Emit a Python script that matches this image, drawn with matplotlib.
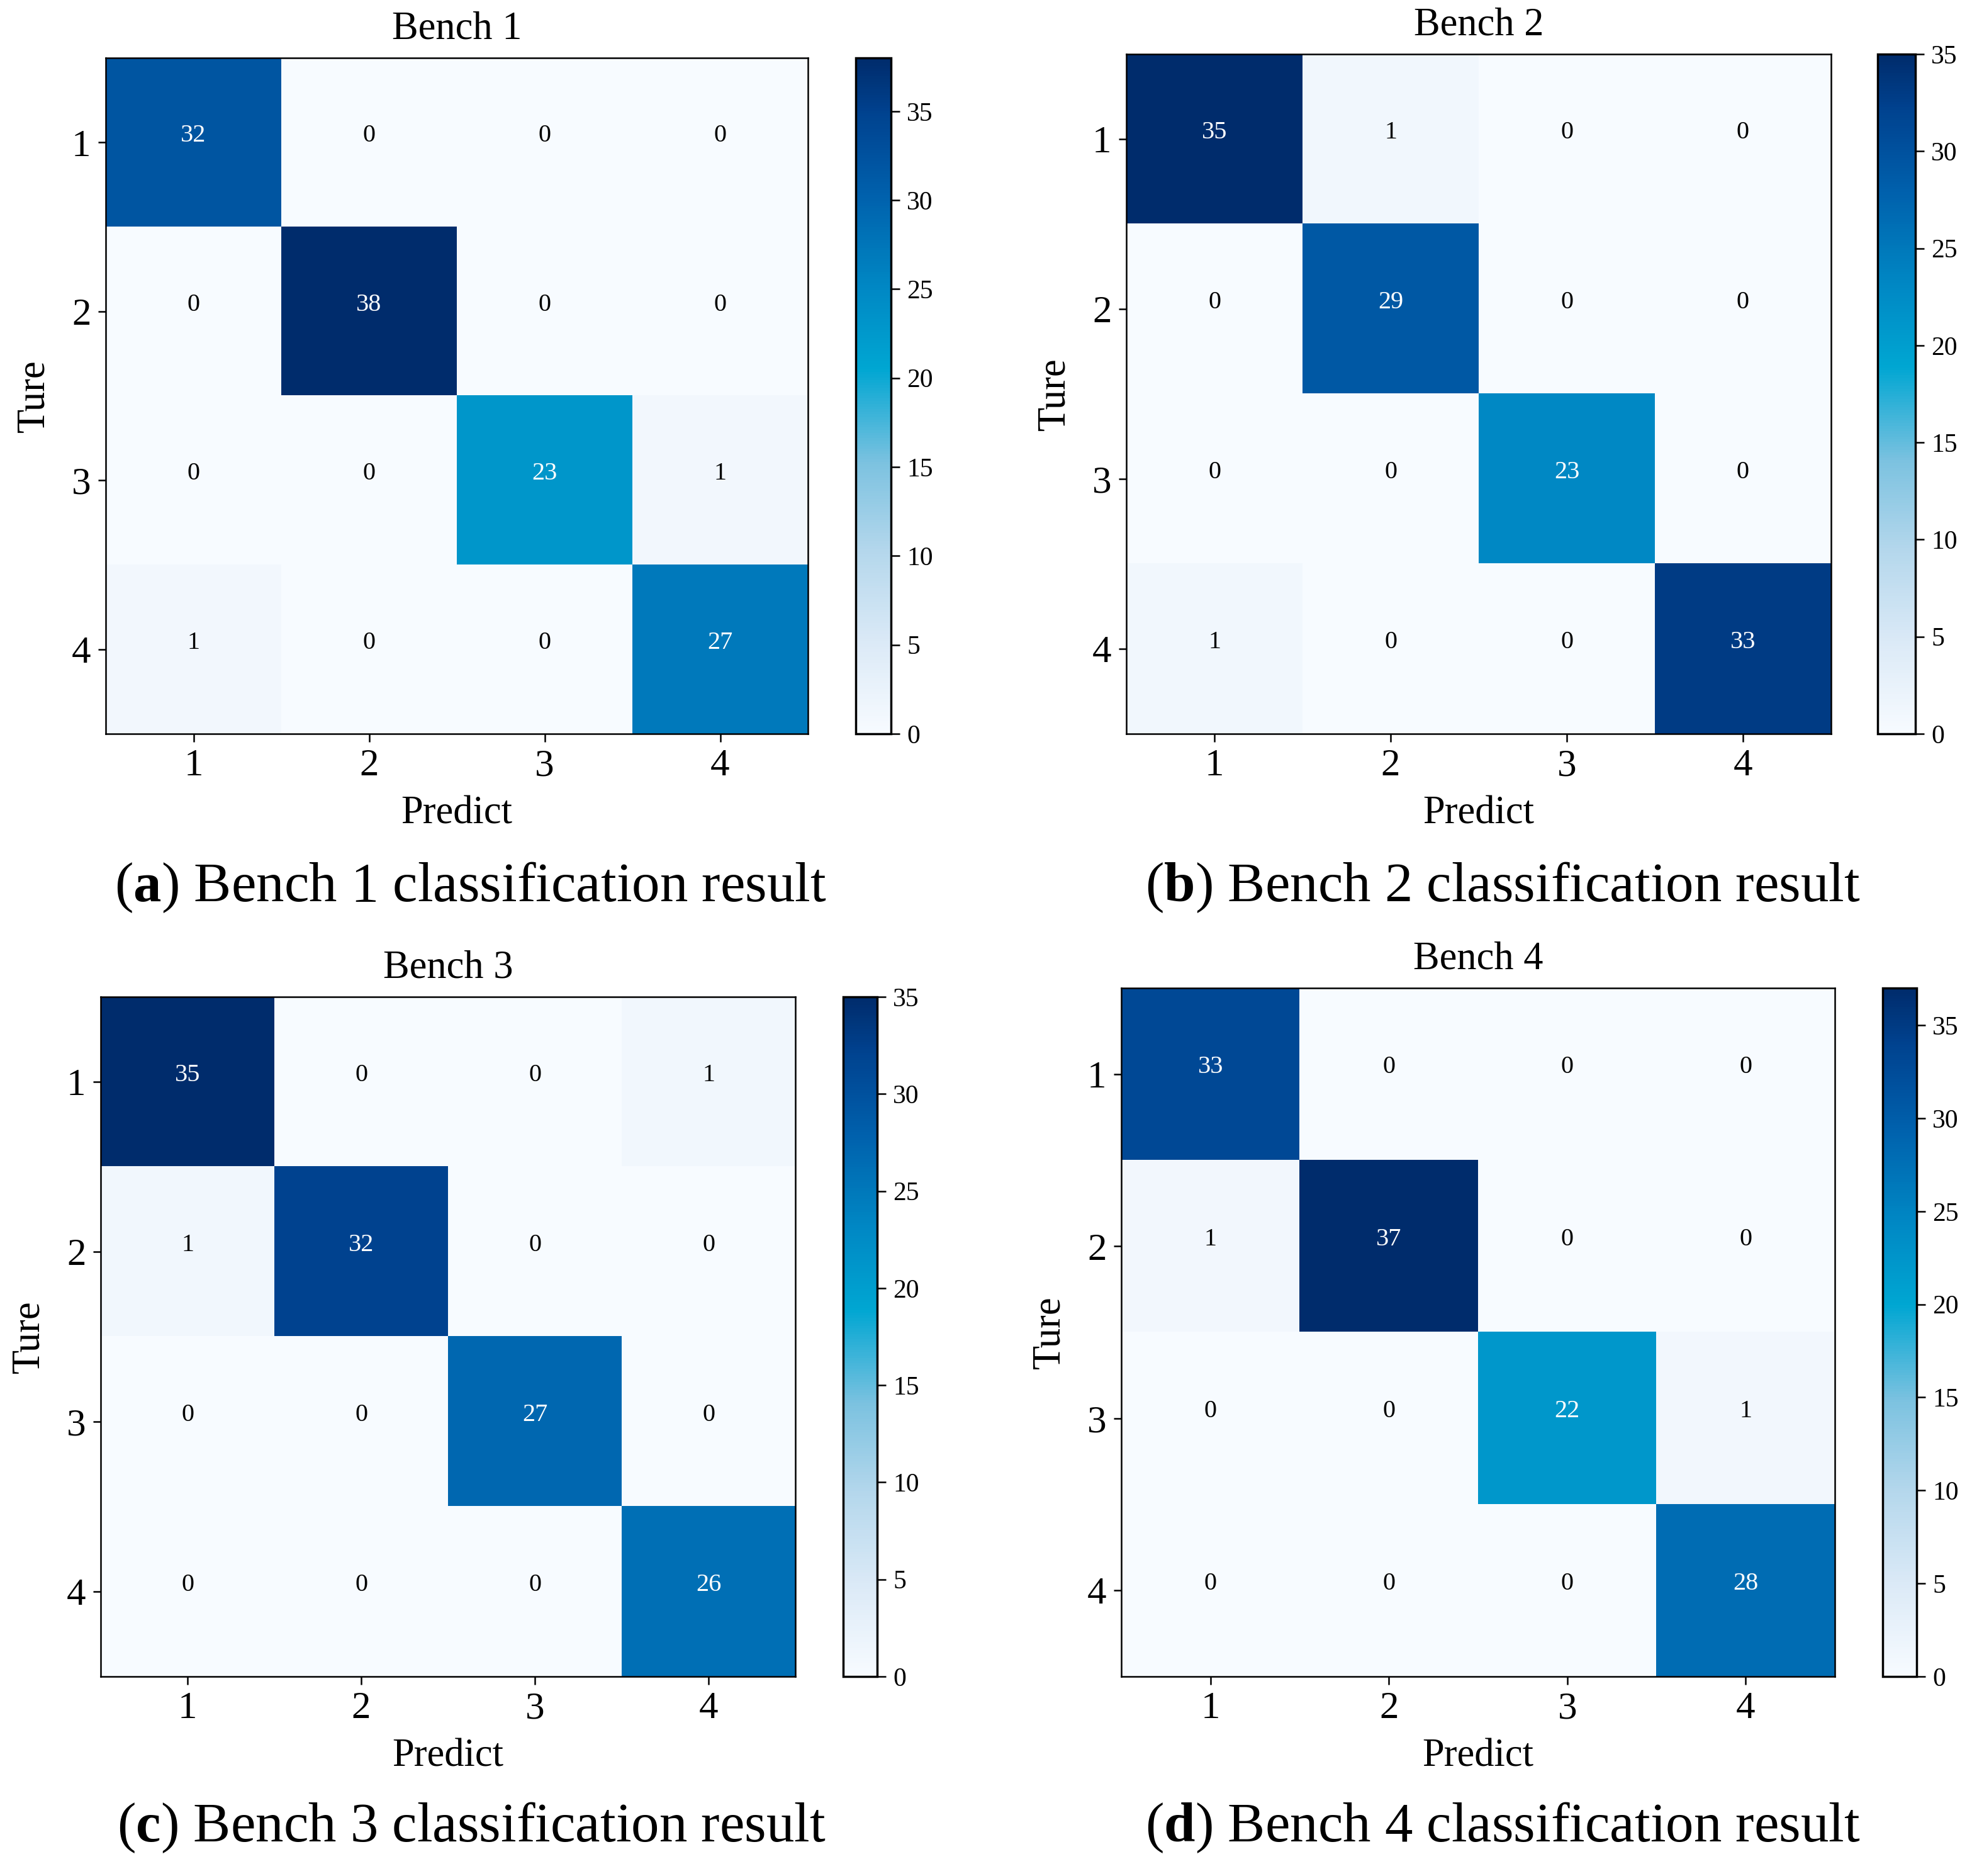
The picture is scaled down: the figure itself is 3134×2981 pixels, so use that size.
import numpy as np
import matplotlib
matplotlib.use("Agg")
import matplotlib.pyplot as plt
from matplotlib.colors import LinearSegmentedColormap

plt.rcParams['font.family'] = ['Liberation Serif', 'DejaVu Serif']
plt.rcParams['mathtext.fontset'] = 'custom'
plt.rcParams['mathtext.rm'] = 'Liberation Serif'
plt.rcParams['mathtext.bf'] = 'Liberation Serif:bold'

# ---- data ----
class_labels = ["1", "2", "3", "4"]
bench_titles = ["Bench 1", "Bench 2", "Bench 3", "Bench 4"]
captions = ["a", "b", "c", "d"]
cm_bench1 = [[32, 0, 0, 0],
             [0, 38, 0, 0],
             [0, 0, 23, 1],
             [1, 0, 0, 27]]
cm_bench2 = [[35, 1, 0, 0],
             [0, 29, 0, 0],
             [0, 0, 23, 0],
             [1, 0, 0, 33]]
cm_bench3 = [[35, 0, 0, 1],
             [1, 32, 0, 0],
             [0, 0, 27, 0],
             [0, 0, 0, 26]]
cm_bench4 = [[33, 0, 0, 0],
             [1, 37, 0, 0],
             [0, 0, 22, 1],
             [0, 0, 0, 28]]
cbar_ticks = [0, 5, 10, 15, 20, 25, 30, 35]

cmap = LinearSegmentedColormap.from_list(
    "bluecyan",
    [(0.0, "#F7FBFF"), (0.13, "#DCEAF7"), (0.27, "#B4D7EC"), (0.40, "#7CC2E0"),
     (0.54, "#00A6D2"), (0.66, "#0088C4"), (0.80, "#0060AC"), (0.92, "#00428F"),
     (1.0, "#002C6C")])

W, H = 3134, 2981
fig = plt.figure(figsize=(W / 100, H / 100), dpi=100)

def frac(x0, x1, y0, y1):
    return [x0 / W, 1 - y1 / H, (x1 - x0) / W, (y1 - y0) / H]

layout = [
    # axes px box, colorbar px x-range, caption center
    ((168, 1284, 92, 1166), (1360, 1416), (748, 1410)),
    ((1790, 2910, 86, 1166), (2984, 3044), (2388, 1410)),
    ((160, 1264, 1584, 2664), (1340, 1394), (749, 2904)),
    ((1782, 2916, 1570, 2664), (2992, 3046), (2388, 2904)),
]
mats = [cm_bench1, cm_bench2, cm_bench3, cm_bench4]

for k in range(4):
    (x0, x1, y0, y1), (c0, c1), (cx, cy) = layout[k]
    m = np.array(mats[k])
    vmax = m.max()
    ax = fig.add_axes(frac(x0, x1, y0, y1))
    im = ax.imshow(m, cmap=cmap, vmin=0, vmax=vmax, aspect='auto',
                   interpolation='nearest')
    n = len(class_labels)
    ax.set_xticks(range(n))
    ax.set_yticks(range(n))
    ax.set_xticklabels(class_labels, fontsize=44)
    ax.set_yticklabels(class_labels, fontsize=44)
    ax.tick_params(length=9, width=1.8, pad=8)
    for s in ax.spines.values():
        s.set_linewidth(1.8)
    ax.set_title(bench_titles[k], fontsize=45, pad=22)
    ax.set_xlabel("Predict", fontsize=45, labelpad=14)
    ax.set_ylabel("Ture", fontsize=45, labelpad=22)
    for i in range(n):
        for j in range(n):
            v = m[i, j]
            ax.text(j, i - 0.04, str(v), ha='center', va='center', fontsize=29,
                    color='white' if v > vmax / 2 else 'black')
    cax = fig.add_axes(frac(c0, c1, y0, y1))
    cb = fig.colorbar(im, cax=cax, ticks=cbar_ticks)
    cb.outline.set_linewidth(2.5)
    cb.ax.tick_params(labelsize=30, length=10, width=1.8, pad=8)
    fig.text(cx / W, 1 - cy / H,
             r"($\mathbf{" + captions[k] + r"}$) " + bench_titles[k] + " classification result",
             ha='center', va='center', fontsize=64)

fig.savefig("out.png", dpi=100, facecolor='white')
